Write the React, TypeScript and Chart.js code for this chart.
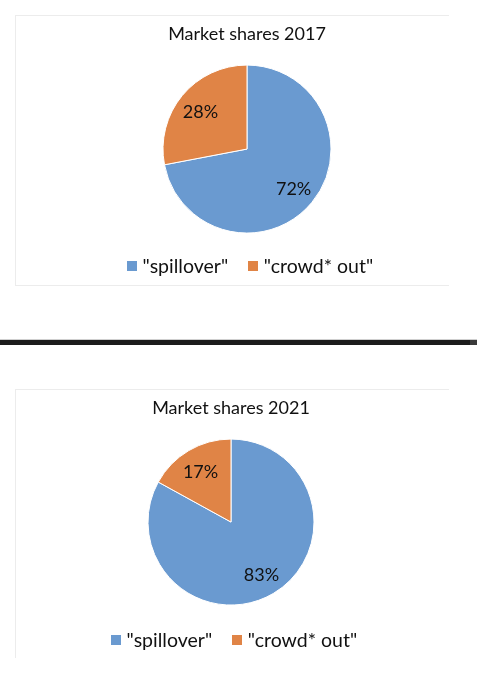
import React, { useEffect, useRef } from "react";
import { Chart, registerables } from "chart.js";

Chart.register(...registerables);

const categories = ['"spillover"', '"crowd* out"'];
const shares2017 = [72, 28];
const shares2021 = [83, 17];
const title2017 = "Market shares 2017";
const title2021 = "Market shares 2021";
const sliceColors = ["#6a9ad0", "#e08446"];

const FONT = "Lato, 'Noto Sans', sans-serif";
const TEXT = "#111111";

function squareImage(color: string) {
  const c = document.createElement("canvas");
  c.width = 10;
  c.height = 10;
  const ctx = c.getContext("2d")!;
  ctx.fillStyle = color;
  ctx.fillRect(0, 0, 10, 10);
  return c;
}

const pctLabels = {
  id: "pctLabels",
  afterDatasetsDraw(chart: any) {
    const ctx = chart.ctx;
    const meta = chart.getDatasetMeta(0);
    const data = chart.data.datasets[0].data;
    ctx.save();
    ctx.font = `18px ${FONT}`;
    ctx.fillStyle = TEXT;
    ctx.textAlign = "center";
    ctx.textBaseline = "middle";
    meta.data.forEach((arc: any, i: number) => {
      const { x, y, startAngle, endAngle, outerRadius } = arc.getProps(
        ["x", "y", "startAngle", "endAngle", "outerRadius"],
        true
      );
      const mid = (startAngle + endAngle) / 2;
      const r = outerRadius * 0.72;
      ctx.fillText(`${data[i]}%`, x + Math.cos(mid) * r, y + Math.sin(mid) * r + 2);
    });
    ctx.restore();
  },
};

const legendShift = {
  id: "legendShift",
  afterLayout(chart: any, _args: any, opts: any) {
    const lg = chart.legend;
    if (lg && opts && opts.dx) {
      lg.left += opts.dx;
      lg.right += opts.dx;
    }
  },
};

type PieProps = {
  title: string;
  values: number[];
  top: number;
  height: number;
  layoutPad: { left: number; right: number; top: number; bottom: number };
  titlePad: { top: number; bottom: number };
  radius: number;
};

function PieChart({ title, values, top, height, layoutPad, titlePad, radius }: PieProps) {
  const ref = useRef<HTMLCanvasElement | null>(null);
  useEffect(() => {
    if (!ref.current) return;
    const chart = new Chart(ref.current, {
      type: "pie",
      data: {
        labels: categories,
        datasets: [
          {
            data: values,
            backgroundColor: sliceColors,
            borderColor: "#ffffff",
            borderWidth: 1,
          },
        ],
      },
      options: {
        responsive: false,
        animation: false,
        radius,
        layout: { padding: layoutPad },
        plugins: {
          tooltip: { enabled: false },
          legendShift: { dx: 5 },
          title: {
            display: true,
            text: title,
            color: TEXT,
            font: { family: FONT, size: 18, weight: "normal" as any },
            padding: titlePad,
          },
          legend: {
            display: true,
            position: "bottom",
            labels: {
              color: TEXT,
              font: { family: FONT, size: 19.5 },
              usePointStyle: true,
              boxWidth: 2,
              padding: 24,
              generateLabels: (ch: any) => {
                const base = (Chart as any).overrides.pie.plugins.legend.labels.generateLabels(ch);
                return base.map((item: any, i: number) => ({
                  ...item,
                  pointStyle: squareImage(sliceColors[i]),
                }));
              },
            },
          },
        } as any,
      },
      plugins: [pctLabels, legendShift],
    });
    return () => chart.destroy();
  }, []);
  return (
    <canvas
      ref={ref}
      width={477}
      height={height}
      style={{ position: "absolute", left: 0, top, width: 477, height }}
    />
  );
}

export default function App() {
  return (
    <div
      style={{
        position: "absolute",
        left: 0,
        top: 0,
        width: 477,
        height: 680,
        overflow: "hidden",
        background: "#ffffff",
      }}
    >
      <div
        style={{
          position: "absolute",
          left: 15,
          top: 15,
          width: 433,
          height: 269,
          borderTop: "1px solid #ececec",
          borderLeft: "1px solid #ececec",
          borderBottom: "1px solid #ececec",
        }}
      />
      <div
        style={{
          position: "absolute",
          left: 15,
          top: 389,
          width: 433,
          height: 268,
          borderTop: "1px solid #ececec",
          borderLeft: "1px solid #ececec",
        }}
      />
      <div style={{ position: "absolute", left: 0, top: 339, width: 477, height: 1, background: "#cfcfcf" }} />
      <div style={{ position: "absolute", left: 0, top: 340, width: 470, height: 5, background: "#1c1c1c" }} />
      <div style={{ position: "absolute", left: 470, top: 340, width: 7, height: 5, background: "#3a3a3a" }} />
      <PieChart
        title={title2017}
        values={shares2017}
        top={0}
        height={286}
        layoutPad={{ left: 17, right: 0, top: 0, bottom: 0 }}
        titlePad={{ top: 23, bottom: 21 }}
        radius={84}
      />
      <PieChart
        title={title2021}
        values={shares2021}
        top={345}
        height={335}
        layoutPad={{ left: 0, right: 15, top: 0, bottom: 20 }}
        titlePad={{ top: 52, bottom: 19 }}
        radius={83}
      />
    </div>
  );
}
